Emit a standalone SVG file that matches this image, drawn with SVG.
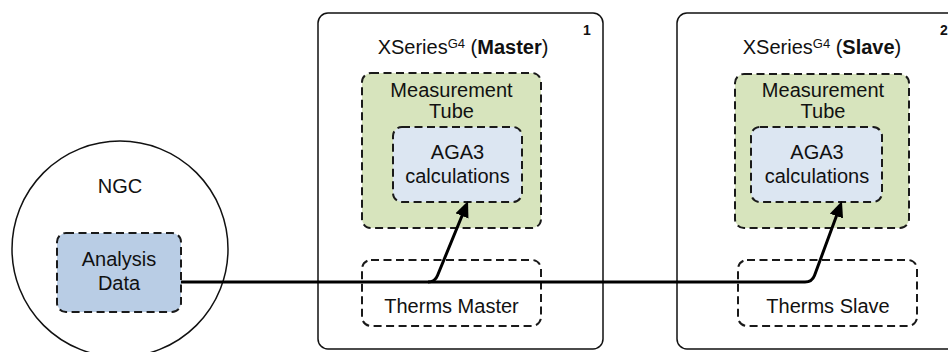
<svg xmlns="http://www.w3.org/2000/svg" width="948" height="352" viewBox="0 0 948 352">
<defs>
<style>
text{font-family:"Liberation Sans",Arial,sans-serif;fill:#111;}
.t{font-size:20px;text-anchor:middle;}
.num{font-size:14px;font-weight:bold;}
.dev{fill:#fff;stroke:#111;stroke-width:1.5;}
.dash{stroke:#1a1a1a;stroke-width:2;stroke-dasharray:8 4.5;}
.tube{fill:#d7e4bd;}
.calc{fill:#dce6f2;}
.data{fill:#b9cde5;}
.none{fill:#fff;}
.conn{fill:none;stroke:#000;stroke-width:3;stroke-linejoin:round;}
</style>
<marker id="arr" markerUnits="userSpaceOnUse" markerWidth="18" markerHeight="16" refX="8" refY="7" orient="auto" viewBox="0 0 18 16">
<path d="M0,0 L16,7 L0,14 z" fill="#000"/>
</marker>
</defs>
<rect width="948" height="352" fill="#fff"/>

<g id="ngc">
<circle cx="120" cy="249" r="108" fill="#fff" stroke="#111" stroke-width="1.5"/>
<text class="t" x="120" y="193">NGC</text>
</g>
<g id="analysis-data">
<rect class="dash data" x="57" y="233" width="124" height="79" rx="9"/>
<text class="t" x="119" y="266">Analysis</text>
<text class="t" x="119" y="290">Data</text>
</g>

<g id="master">
<rect class="dev" x="318" y="13" width="285" height="336" rx="10"/>
<text class="t" x="463" y="54">XSeries<tspan font-size="13" dy="-6">G4</tspan><tspan dy="6"> (</tspan><tspan font-weight="bold">Master</tspan>)</text>
<text class="num" x="583" y="35">1</text>
</g>
<g id="master-tube">
<rect class="dash tube" x="362" y="73" width="179" height="155" rx="9"/>
<text class="t" x="451.5" y="97">Measurement</text>
<text class="t" x="451.5" y="118">Tube</text>
</g>
<g id="master-aga3">
<rect class="dash calc" x="393" y="127" width="129" height="75" rx="9"/>
<text class="t" x="457.5" y="159">AGA3</text>
<text class="t" x="457.5" y="183">calculations</text>
</g>
<g id="therms-master">
<rect class="dash none" x="362" y="260" width="179" height="66" rx="9"/>
<text class="t" x="451.5" y="313">Therms Master</text>
</g>

<g id="slave">
<rect class="dev" x="677" y="13" width="285" height="336" rx="10"/>
<text class="t" x="822" y="54">XSeries<tspan font-size="13" dy="-6">G4</tspan><tspan dy="6"> (</tspan><tspan font-weight="bold">Slave</tspan>)</text>
<text class="num" x="940" y="35">2</text>
</g>
<g id="slave-tube">
<rect class="dash tube" x="735" y="74" width="174" height="154" rx="9"/>
<text class="t" x="823" y="97">Measurement</text>
<text class="t" x="823" y="118">Tube</text>
</g>
<g id="slave-aga3">
<rect class="dash calc" x="751" y="127" width="131" height="75" rx="9"/>
<text class="t" x="817" y="159">AGA3</text>
<text class="t" x="817" y="183">calculations</text>
</g>
<g id="therms-slave">
<rect class="dash none" x="738" y="260" width="179" height="66" rx="9"/>
<text class="t" x="828" y="313">Therms Slave</text>
</g>

<g id="connectors">
<path class="conn" d="M181,282 H805 Q812,282 814.5,275.5 L839.2,208.5" marker-end="url(#arr)"/>
<path class="conn" d="M428,282 Q435,282 437.5,275.5 L465,208.5" marker-end="url(#arr)"/>
</g>
</svg>
